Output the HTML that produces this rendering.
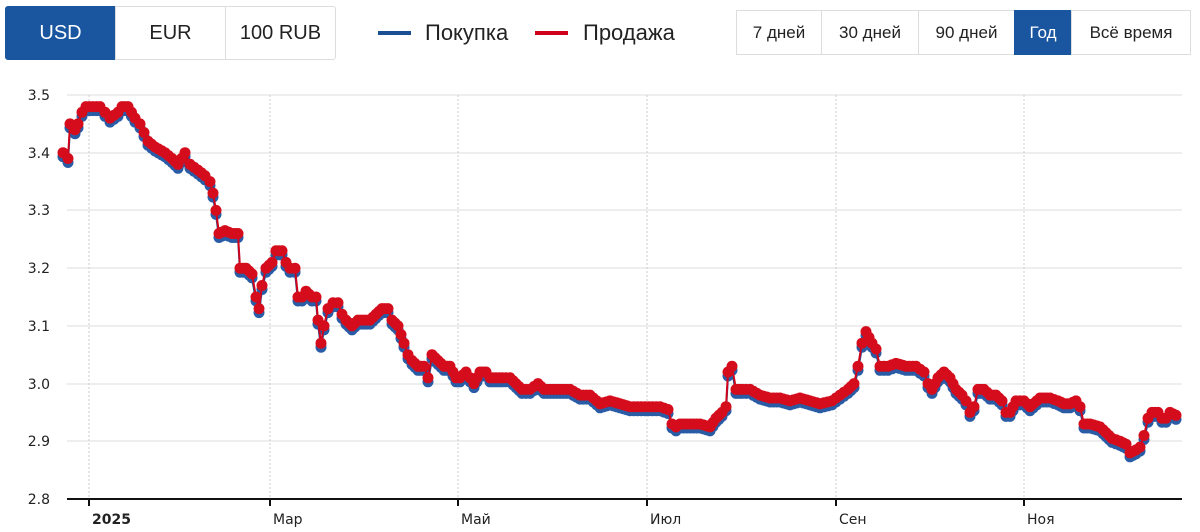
<!DOCTYPE html><html><head><meta charset="utf-8"><style>
body{margin:0;width:1200px;height:532px;background:#fff;font-family:"Liberation Sans","DejaVu Sans",sans-serif;position:relative;overflow:hidden}
.b{position:absolute;box-sizing:border-box;border:1px solid #ddd;display:flex;align-items:center;justify-content:center;color:#222}
.on{background:#1a56a0;color:#fff;border-color:#1a56a0}
.l{position:absolute;font-size:22px;color:#222}
</style></head><body>
<div class="b on" style="left:5px;top:6px;width:111px;height:54px;font-size:20px;border-radius:3px 0 0 3px">USD</div>
<div class="b" style="left:115px;top:6px;width:111px;height:54px;font-size:20px">EUR</div>
<div class="b" style="left:225px;top:6px;width:111px;height:54px;font-size:20px;border-radius:0 3px 3px 0">100 RUB</div>
<div style="position:absolute;left:378px;top:31px;width:33px;height:4px;background:#1a4f94"></div>
<div class="l" style="left:425px;top:20px">Покупка</div>
<div style="position:absolute;left:535px;top:31px;width:33px;height:4px;background:#d0021b"></div>
<div class="l" style="left:583px;top:20px">Продажа</div>
<div class="b" style="left:736px;top:10px;width:86px;height:45px;font-size:17px">7 дней</div>
<div class="b" style="left:821px;top:10px;width:98px;height:45px;font-size:17px">30 дней</div>
<div class="b" style="left:918px;top:10px;width:97px;height:45px;font-size:17px">90 дней</div>
<div class="b on" style="left:1014px;top:10px;width:58px;height:45px;font-size:17px">Год</div>
<div class="b" style="left:1071px;top:10px;width:120px;height:45px;font-size:17px">Всё время</div>
<svg id="c" width="1200" height="532" style="position:absolute;left:0;top:0" font-family="DejaVu Sans,sans-serif" font-size="14" fill="#222">
<g stroke="#ddd" stroke-width="1">
<line x1="67" x2="1182" y1="95" y2="95"/><line x1="67" x2="1182" y1="153" y2="153"/><line x1="67" x2="1182" y1="210" y2="210"/><line x1="67" x2="1182" y1="268" y2="268"/><line x1="67" x2="1182" y1="326" y2="326"/><line x1="67" x2="1182" y1="384" y2="384"/><line x1="67" x2="1182" y1="441" y2="441"/>
</g>
<g stroke="#ccc" stroke-dasharray="2,2">
<line x1="89" x2="89" y1="95" y2="499"/><line x1="270" x2="270" y1="95" y2="499"/><line x1="458" x2="458" y1="95" y2="499"/><line x1="647" x2="647" y1="95" y2="499"/><line x1="836" x2="836" y1="95" y2="499"/><line x1="1024" x2="1024" y1="95" y2="499"/>
</g>
<line x1="67" x2="1182" y1="499" y2="499" stroke="#111" stroke-width="2"/>
<g stroke="#111" stroke-width="2"><line x1="89" x2="89" y1="499" y2="506"/><line x1="270" x2="270" y1="499" y2="506"/><line x1="458" x2="458" y1="499" y2="506"/><line x1="647" x2="647" y1="499" y2="506"/><line x1="836" x2="836" y1="499" y2="506"/><line x1="1024" x2="1024" y1="499" y2="506"/></g>
<g text-anchor="end"><text x="50" y="100">3.5</text><text x="50" y="158">3.4</text><text x="50" y="215">3.3</text><text x="50" y="273">3.2</text><text x="50" y="331">3.1</text><text x="50" y="389">3.0</text><text x="50" y="446">2.9</text><text x="50" y="504">2.8</text></g>
<text x="92" y="524" font-weight="bold">2025</text><text x="273" y="524">Мар</text><text x="461" y="524">Май</text><text x="650" y="524">Июл</text><text x="839" y="524">Сен</text><text x="1027" y="524">Ноя</text>
<g id="g"></g>
</svg>
<script>
var P=[[63,3.40],[68,3.39],[70,3.45],[75,3.44],[78,3.45],[82,3.47],[86,3.48],[100,3.48],[105,3.47],[110,3.46],[118,3.47],[122,3.48],[128,3.48],[135,3.46],[140,3.45],[148,3.42],[155,3.41],[165,3.40],[172,3.39],[178,3.38],[185,3.40],[190,3.38],[198,3.37],[205,3.36],[210,3.35],[213,3.33],[216,3.30],[219,3.26],[225,3.265],[232,3.26],[238,3.26],[240,3.20],[246,3.20],[252,3.19],[256,3.15],[259,3.13],[262,3.17],[266,3.20],[272,3.21],[276,3.23],[282,3.23],[286,3.21],[290,3.20],[295,3.20],[298,3.15],[302,3.15],[306,3.16],[312,3.15],[316,3.15],[318,3.11],[321,3.07],[324,3.10],[328,3.13],[333,3.14],[338,3.14],[342,3.12],[346,3.11],[352,3.10],[358,3.11],[364,3.11],[370,3.11],[376,3.12],[382,3.13],[388,3.13],[392,3.11],[398,3.10],[404,3.07],[408,3.05],[412,3.04],[418,3.03],[424,3.03],[428,3.01],[432,3.05],[438,3.04],[444,3.03],[450,3.03],[456,3.01],[460,3.01],[466,3.02],[470,3.01],[474,3.00],[480,3.02],[486,3.02],[490,3.01],[496,3.01],[502,3.01],[510,3.01],[516,3.00],[522,2.99],[530,2.99],[538,3.00],[544,2.99],[560,2.99],[570,2.99],[580,2.98],[590,2.98],[600,2.965],[610,2.97],[620,2.965],[630,2.96],[645,2.96],[660,2.96],[668,2.955],[672,2.93],[676,2.925],[680,2.93],[690,2.93],[700,2.93],[710,2.925],[716,2.94],[722,2.95],[726,2.96],[728,3.02],[732,3.03],[736,2.99],[742,2.99],[750,2.99],[760,2.98],[770,2.975],[780,2.975],[790,2.97],[800,2.975],[810,2.97],[820,2.965],[832,2.97],[840,2.98],[848,2.99],[854,3.00],[858,3.03],[862,3.07],[866,3.09],[872,3.07],[876,3.06],[880,3.03],[888,3.03],[896,3.035],[906,3.03],[916,3.03],[924,3.02],[928,3.00],[932,2.99],[938,3.01],[944,3.02],[950,3.01],[956,2.99],[962,2.98],[966,2.97],[970,2.95],[974,2.96],[978,2.99],[984,2.99],[990,2.98],[996,2.98],[1002,2.97],[1006,2.95],[1010,2.95],[1016,2.97],[1024,2.97],[1030,2.96],[1040,2.975],[1050,2.975],[1058,2.97],[1064,2.965],[1070,2.965],[1076,2.97],[1080,2.96],[1084,2.93],[1090,2.93],[1100,2.925],[1106,2.915],[1112,2.905],[1120,2.90],[1126,2.895],[1130,2.88],[1136,2.885],[1140,2.89],[1144,2.91],[1148,2.94],[1152,2.95],[1158,2.95],[1162,2.94],[1166,2.94],[1170,2.95],[1176,2.945]];
function Y(v){return 499-(v-2.8)*577.1}
var pts=[];for(var i=0;i<P.length-1;i++){var a=P[i],b=P[i+1],n=Math.max(1,Math.round((b[0]-a[0])/3.5));for(var k=0;k<n;k++){var t=k/n;pts.push([a[0]+(b[0]-a[0])*t,Y(a[1]+(b[1]-a[1])*t)]);}}pts.push([P[P.length-1][0],Y(P[P.length-1][1])]);
var s='',d='';pts.forEach(function(p,i){d+=(i?'L':'M')+p[0].toFixed(1)+','+p[1].toFixed(1);});
s+='<path d="'+d+'" transform="translate(0,4)" stroke="#1a4f94" stroke-width="2" fill="none"/>';
pts.forEach(function(p){s+='<circle cx="'+p[0].toFixed(1)+'" cy="'+(p[1]+4).toFixed(1)+'" r="5.5" fill="#2a5ca6"/>';});
s+='<path d="'+d+'" stroke="#d0021b" stroke-width="2" fill="none"/>';
pts.forEach(function(p){s+='<circle cx="'+p[0].toFixed(1)+'" cy="'+p[1].toFixed(1)+'" r="5.5" fill="#d40c1c"/>';});
document.getElementById('g').innerHTML=s;
</script>
</body></html>
